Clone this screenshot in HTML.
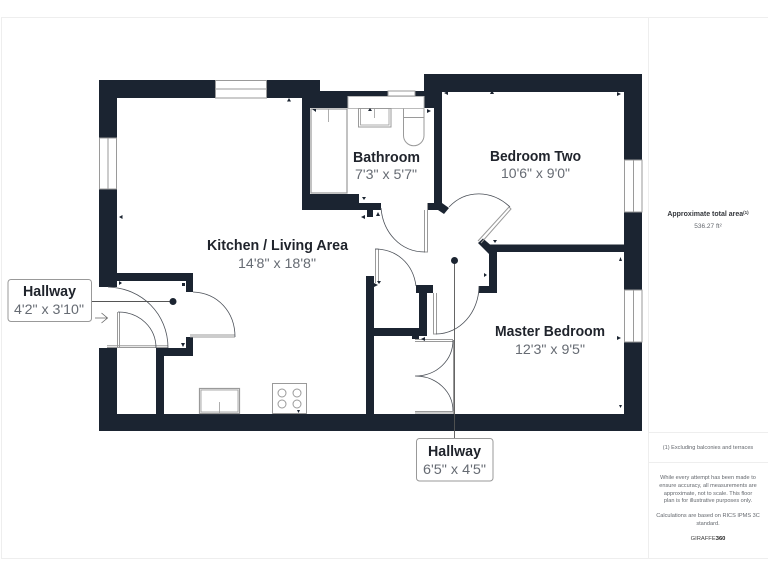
<!DOCTYPE html>
<html><head><meta charset="utf-8"><style>
html,body{margin:0;padding:0;background:#fff}
svg{display:block}
text{font-family:"Liberation Sans",sans-serif}
.t{font-size:14.5px;font-weight:bold;fill:#20242c}
.d{font-size:14px;fill:#666b73}
.s{font-size:5.6px;fill:#63676d;text-anchor:middle}
.w{fill:#1b2431}
.l{fill:#fff;stroke:#9a9a9a;stroke-width:1}
.a{fill:none;stroke:#4a4f57;stroke-width:.8}
.g{fill:none;stroke:#9a9a9a;stroke-width:1}
.m{fill:#1b2431}
</style></head><body>
<svg width="768" height="576" viewBox="0 0 768 576" xmlns="http://www.w3.org/2000/svg">
<rect x="1.5" y="17.5" width="770" height="541" fill="#fff" stroke="#eeeeee" stroke-width="1"/>
<path d="M648.5 17V558M649 432.5H768M649 462.5H768" stroke="#eeeeee" fill="none"/>

<!-- walls -->
<path class="w" d="M99 80H320V91H348V108H310V194H359V203H381V210H373V217H367V210H302V98H117V287H99Z"/>
<path class="w" d="M117 273H193V292H186V281H117Z"/>
<path class="w" d="M99 348H117V414H156V348H186V337H193V356H164V414H366V276H374V328H419V293H416V285H433V293H427V336H419V339H412V336H374V414H624V252H497V293H479V286H489V254L478 243L483 238.500L490 244.500H624V92H442V203L449 208L444 214L438 210H427V203H434V108H424V74H642V431H99Z"/>
<rect class="w" x="415" y="91" width="10" height="5"/>
<rect class="w" x="348" y="91" width="40" height="5"/>

<!-- windows -->
<g class="l">
<rect x="215.500" y="80.500" width="51" height="17.500"/>
<path d="M215.500 89H266.500"/>
<rect x="99.500" y="138" width="17" height="51"/>
<path d="M108 138V189"/>
<rect x="624.500" y="160" width="17.500" height="52"/>
<path d="M633.500 160V212"/>
<rect x="624.500" y="290" width="17.500" height="52"/>
<path d="M633.500 290V342"/>
<rect x="388" y="91" width="27" height="5"/>
</g>

<!-- fixtures -->
<g class="g">
<path d="M348 96.500H424V108.500H348Z" stroke="#bbb"/>
<rect x="311" y="109" width="36" height="84" stroke-width="1.200"/>
<path d="M328.500 109V122" stroke-width=".8"/>
<rect x="358.500" y="108.500" width="32.500" height="18.500" stroke-width="1"/>
<rect x="360.500" y="108.500" width="28.500" height="16.500" stroke-width=".8"/>
<path d="M374.500 109V118" stroke-width=".8"/>
<path d="M403.500 108.500V135.500A10.250 10.250 0 0 0 424 135.500V108.500M403.500 117.500H424"/>
<rect x="199.500" y="388.500" width="40" height="25" stroke-width="1.200"/>
<rect x="201" y="390" width="37" height="22" stroke-width=".8"/>
<path d="M219.500 402V413" stroke-width=".8"/>
<rect x="272.500" y="383.500" width="34" height="30"/>
<circle cx="282" cy="393" r="4"/><circle cx="297" cy="393" r="4"/><circle cx="282" cy="404" r="4"/><circle cx="297" cy="404" r="4"/>
</g>

<!-- doors -->
<g class="g">
<path d="M424.500 210V252H427.500V203"/>
<path d="M375.500 249V283M378.500 249V283M375.500 249H378.500"/>
<path d="M433.500 293V334H436.500V293"/>
<path d="M478 241L509 207L511 209L481 243"/>
<path d="M107 347.500H168M107 345.800H168"/>
<path d="M117.500 312V348M119.500 312V348"/>
<path d="M190 335H235M190 337H235"/>
<path d="M415 339.500H453M415 341.500H453M415 411.500H453M415 413H453"/>
<path d="M453.500 340V414"/>
</g>
<g class="a">
<path d="M381 208C383 232 400 252 425 252"/>
<path d="M449 207C466 189 492 190 510 207"/>
<path d="M375 249C396 249 413 263 416 286"/>
<path d="M436 334C460 334 479 312 479 286"/>
<path d="M108 287C142 288 168 314 168 348"/>
<path d="M118 312C140 312 156 328 156 348"/>
<path d="M193 292C218 293 235 312 235 337"/>
<path d="M453 340C453 360 437 376 415 376C437 376 453 392 453 411"/>
</g>

<!-- small markers -->
<g class="m">
<path d="M289 102L291 98.500H287Z" transform="rotate(180 289 100)"/>
<path d="M119 217L122.500 215V219ZM361 217L365 215V219Z"/>
<path d="M312 109H316V112ZM368 111L370 108 372 111ZM427 109L431 111 427 113ZM362 197H366L364 200ZM378 212L380 216H376Z"/>
<path d="M492 90L494 94H490ZM444 93L448 91V95ZM621 94L617 92V96ZM493 240H497L495 243ZM619 261H622L620.500 257ZM621 338L617 336V340ZM619 405H622L620.500 408Z"/>
<path d="M487 275L484 273V277ZM378 285L374 283V287ZM377 281H381L379 284ZM421 339L425 337V341Z"/>
<path d="M122 283L119 281V285ZM182 283H185V286H182ZM181 343H185L183 347ZM297 410H300L298.500 413Z"/>
</g>

<!-- leaders -->
<path d="M91 301.500H173M454.500 260V438" stroke="#555" stroke-width=".9" fill="none"/>
<circle cx="173" cy="301.500" r="3.500" fill="#1b2431"/>
<circle cx="454.500" cy="260.500" r="3.500" fill="#1b2431"/>
<path d="M95 318H107M101.500 313L107.500 318L101.500 323" fill="none" stroke="#666" stroke-width=".8"/>
<rect x="8" y="279.500" width="83.500" height="42" rx="3" fill="#fff" stroke="#999"/>
<rect x="416.500" y="438.500" width="76.500" height="42.500" rx="3" fill="#fff" stroke="#999"/>

<!-- labels -->
<text class="t" x="353" y="162" textLength="67" lengthAdjust="spacingAndGlyphs">Bathroom</text>
<text class="d" x="355" y="179" textLength="62" lengthAdjust="spacingAndGlyphs">7'3" x 5'7"</text>
<text class="t" x="490" y="161" textLength="91" lengthAdjust="spacingAndGlyphs">Bedroom Two</text>
<text class="d" x="501" y="178" textLength="69" lengthAdjust="spacingAndGlyphs">10'6" x 9'0"</text>
<text class="t" x="207" y="250" textLength="141" lengthAdjust="spacingAndGlyphs">Kitchen / Living Area</text>
<text class="d" x="238" y="268" textLength="78" lengthAdjust="spacingAndGlyphs">14'8" x 18'8"</text>
<text class="t" x="495" y="336" textLength="110" lengthAdjust="spacingAndGlyphs">Master Bedroom</text>
<text class="d" x="515" y="354" textLength="70" lengthAdjust="spacingAndGlyphs">12'3" x 9'5"</text>
<text class="t" x="23" y="296" textLength="53" lengthAdjust="spacingAndGlyphs">Hallway</text>
<text class="d" x="14" y="314" textLength="70" lengthAdjust="spacingAndGlyphs">4'2" x 3'10"</text>
<text class="t" x="428" y="456" textLength="53" lengthAdjust="spacingAndGlyphs">Hallway</text>
<text class="d" x="423" y="474" textLength="63" lengthAdjust="spacingAndGlyphs">6'5" x 4'5"</text>

<!-- panel -->
<text x="708" y="216" text-anchor="middle" font-size="7" font-weight="bold" fill="#33363b">Approximate total area<tspan font-size="4.500" dy="-2">(1)</tspan></text>
<text class="s" x="708" y="228" style="font-size:6.500px">536.27 ft²</text>
<text class="s" x="708" y="449">(1) Excluding balconies and terraces</text>
<text class="s" x="708" y="479">While every attempt has been made to</text>
<text class="s" x="708" y="487">ensure accuracy, all measurements are</text>
<text class="s" x="708" y="495">approximate, not to scale. This floor</text>
<text class="s" x="708" y="502">plan is for illustrative purposes only.</text>
<text class="s" x="708" y="517">Calculations are based on RICS IPMS 3C</text>
<text class="s" x="708" y="525">standard.</text>
<text class="s" x="708" y="540" style="font-size:5.800px;fill:#444">GIRAFFE<tspan font-weight="bold" fill="#222">360</tspan></text>
</svg>
</body></html>
